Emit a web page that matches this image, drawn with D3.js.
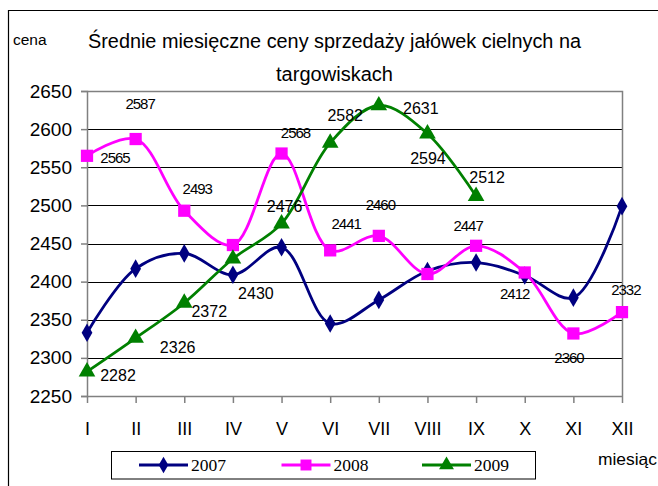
<!DOCTYPE html>
<html><head><meta charset="utf-8">
<script src="https://cdn.jsdelivr.net/npm/d3@7"></script>
<style>body{margin:0;background:#fff}svg{display:block}</style>
</head><body>
<svg id="c" width="658" height="486"></svg>
<script>
const months = ["I","II","III","IV","V","VI","VII","VIII","IX","X","XI","XII"];
const yTicks = [2250,2300,2350,2400,2450,2500,2550,2600,2650];
const v2007 = [2333,2417,2437,2409,2445,2345,2376,2414,2425,2408,2379,2499];
const v2008 = [2565,2587,2493,2448,2568,2441,2460,2410,2447,2412,2332,2360];
const v2009 = [2282,2326,2372,2430,2476,2582,2631,2594,2512];
const seriesNames = ["2007","2008","2009"];
const seriesColors = ["#000080","#FF00FF","#008000"];
const titleLines = ["Średnie miesięczne ceny sprzedaży jałówek cielnych na","targowiskach"];

// label layout (offsets from point, in px); null = no label
const labelOffsets2008 = [[28,7],[4.5,-30],[13,-17],null,[14,-15.5],[16,-21],[1.5,-26],null,[-8,-15],[-10,26.5],[52.5,-38.5],[-53,51]];
const labelOffsets2009 = [[31,9.5],[42,15],[25,14],[23,40],[3,-12],[15,-22],[42,8.5],[0.5,30],[11,-13]];

const svg = d3.select("#c");
const L=87, R=622, T=91, B=396;
const x = d3.scalePoint().domain(months).range([L,R]).padding(0);
const y = d3.scaleLinear().domain([2250,2650]).range([B,T]);
const tf = "'Liberation Sans', Arial, sans-serif";

// outer frame
svg.append("path").attr("d","M8.5,490 L8.5,10.5 L670,10.5").attr("fill","none").attr("stroke","#000").attr("stroke-width",1.2);

// gridlines
svg.append("g").selectAll("line").data(yTicks.filter(d=>d>2250&&d<2650)).join("line")
  .attr("x1",L).attr("x2",R).attr("y1",d=>Math.round(y(d))+0.5).attr("y2",d=>Math.round(y(d))+0.5)
  .attr("stroke","#000").attr("stroke-width",1);
// plot border top/right
svg.append("path").attr("d",`M${L},${T+0.5} L${R+0.5},${T+0.5} L${R+0.5},${B}`).attr("fill","none").attr("stroke","#808080").attr("stroke-width",1.5);

// axes
const yAxis = svg.append("g").attr("transform",`translate(${L},0)`)
  .call(d3.axisLeft(y).tickValues(yTicks).tickSize(6).tickPadding(9).tickFormat(d3.format("d")));
yAxis.select(".domain").attr("stroke","#808080").attr("stroke-width",1.5);
yAxis.selectAll(".tick line").attr("stroke","#808080").attr("stroke-width",1.5);
yAxis.selectAll("text").attr("font-family",tf).attr("font-size",19).attr("fill","#000");

const xAxis = svg.append("g").attr("transform",`translate(0,${B})`)
  .call(d3.axisBottom(x).tickSize(7).tickPadding(19).tickSizeOuter(0));
xAxis.select(".domain").attr("stroke","#808080").attr("stroke-width",1.5);
xAxis.selectAll(".tick line").attr("stroke","#808080").attr("stroke-width",1.5);
xAxis.selectAll("text").attr("font-family",tf).attr("font-size",18).attr("fill","#000");

// lines
const line = d3.line().x((d,i)=>x(months[i])).y(d=>y(d)).curve(d3.curveCatmullRom.alpha(0.5));
const allSeries = [v2007,v2008,v2009];
const symTypes = [d3.symbolDiamond, d3.symbolSquare, d3.symbolTriangle];
const symSizes = [100,150,120];

allSeries.forEach((vals,si)=>{
  const g = svg.append("g");
  g.append("path").attr("d",line(vals)).attr("fill","none").attr("stroke",seriesColors[si]).attr("stroke-width",2.8);
  g.selectAll("path.m").data(vals).join("path").attr("class","m")
    .attr("transform",(d,i)=>`translate(${x(months[i])},${y(d)})`)
    .attr("d",d3.symbol().type(symTypes[si]).size(symSizes[si]))
    .attr("fill",seriesColors[si]);
});

// data labels
const labelGroup = svg.append("g").attr("font-family",tf).attr("fill","#000").attr("text-anchor","middle");
v2008.forEach((v,i)=>{
  const o = labelOffsets2008[i]; if(!o) return;
  labelGroup.append("text").attr("x",x(months[i])+o[0]).attr("y",y(v)+o[1])
    .attr("font-size",15).attr("letter-spacing","-1px").text(v);
});
v2009.forEach((v,i)=>{
  const o = labelOffsets2009[i]; if(!o) return;
  labelGroup.append("text").attr("x",x(months[i])+o[0]).attr("y",y(v)+o[1])
    .attr("font-size",16).text(v);
});

// titles
svg.append("text").attr("x",88).attr("y",48).attr("font-family",tf).attr("font-size",20)
  .attr("textLength",493).attr("lengthAdjust","spacingAndGlyphs").text(titleLines[0]);
svg.append("text").attr("x",276).attr("y",81).attr("font-family",tf).attr("font-size",20)
  .attr("textLength",117).attr("lengthAdjust","spacingAndGlyphs").text(titleLines[1]);
svg.append("text").attr("x",13).attr("y",45).attr("font-family",tf).attr("font-size",15.5).text("cena");
svg.append("text").attr("x",598).attr("y",465).attr("font-family",tf).attr("font-size",16.5)
  .attr("textLength",59).attr("lengthAdjust","spacingAndGlyphs").text("miesiąc");

// legend
svg.append("rect").attr("x",111.5).attr("y",451.5).attr("width",424).attr("height",27.5).attr("fill","#fff").attr("stroke","#000").attr("stroke-width",1);
const legX = [139,281.5,422];
seriesNames.forEach((n,si)=>{
  const lg = svg.append("g").attr("transform",`translate(${legX[si]},465)`);
  lg.append("line").attr("x1",0).attr("x2",49).attr("stroke",seriesColors[si]).attr("stroke-width",2.8);
  lg.append("path").attr("transform","translate(24.5,0)").attr("d",d3.symbol().type(symTypes[si]).size(symSizes[si]*0.8)).attr("fill",seriesColors[si]);
  lg.append("text").attr("x",52).attr("y",6).attr("font-family","'Liberation Serif','Times New Roman',serif").attr("font-size",17.5).text(n);
});
</script>
</body></html>
